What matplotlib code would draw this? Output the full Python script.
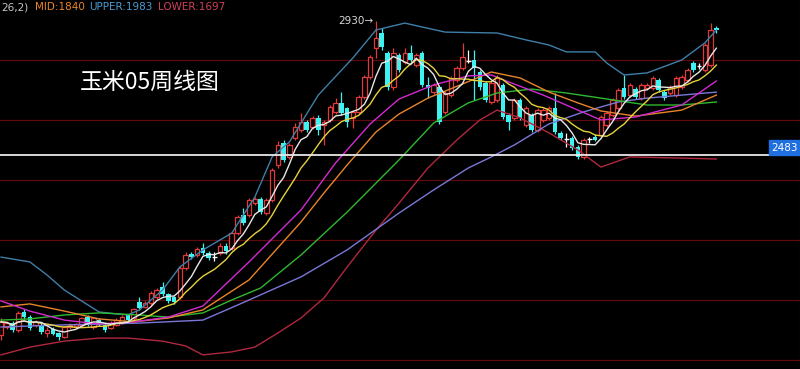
import matplotlib

matplotlib.use("Agg")
import matplotlib.pyplot as plt
import matplotlib.transforms as mtransforms
import numpy as np
import pandas as pd

# weekly candles (price units)
OPEN = [1883, 1910, 1923, 1900, 1960, 1943, 1917, 1917, 1890, 1903,
        1890, 1877, 1910, 1913, 1917, 1943, 1910, 1933, 1917, 1907,
        1917, 1923, 1950, 1940, 1993, 1977, 1990, 2010, 2043, 2020,
        2010, 2010, 2107, 2153, 2150, 2173, 2157, 2147, 2157, 2180,
        2173, 2223, 2283, 2283, 2323, 2337, 2290, 2333, 2450, 2523,
        2477, 2540, 2567, 2593, 2577, 2607, 2583, 2600, 2627, 2657,
        2640, 2607, 2627, 2677, 2743, 2840, 2890, 2823, 2710, 2817,
        2793, 2823, 2783, 2823, 2717, 2693, 2710, 2627, 2683, 2733,
        2773, 2800, 2800, 2760, 2723, 2660, 2667, 2717, 2617, 2607,
        2667, 2583, 2617, 2567, 2600, 2607, 2640, 2557, 2540, 2540,
        2510, 2477, 2533, 2543, 2550, 2583, 2617, 2640, 2707, 2683,
        2703, 2673, 2707, 2707, 2733, 2693, 2690, 2683, 2710, 2733,
        2790, 2780, 2767, 2783, 2908]
CLOSE = [1927, 1923, 1900, 1957, 1943, 1907, 1927, 1893, 1900, 1887,
         1877, 1910, 1917, 1920, 1940, 1917, 1940, 1917, 1900, 1923,
         1933, 1943, 1933, 1970, 1973, 1990, 2023, 2033, 2020, 1997,
         1993, 2107, 2150, 2143, 2170, 2157, 2140, 2145, 2180, 2163,
         2223, 2277, 2257, 2333, 2337, 2293, 2333, 2433, 2517, 2467,
         2517, 2577, 2593, 2567, 2607, 2567, 2593, 2643, 2657, 2623,
         2593, 2627, 2677, 2743, 2810, 2873, 2843, 2710, 2823, 2767,
         2823, 2800, 2817, 2717, 2707, 2717, 2593, 2690, 2740, 2773,
         2810, 2797, 2773, 2710, 2667, 2723, 2740, 2610, 2593, 2667,
         2607, 2640, 2567, 2633, 2633, 2640, 2560, 2540, 2537, 2507,
         2477, 2533, 2537, 2533, 2610, 2623, 2667, 2700, 2677, 2717,
         2677, 2717, 2717, 2740, 2700, 2673, 2710, 2740, 2743, 2767,
         2767, 2780, 2850, 2900, 2900]
HIGH = [1940, 1930, 1930, 1965, 1970, 1950, 1935, 1925, 1910, 1910,
        1895, 1915, 1922, 1925, 1945, 1950, 1945, 1940, 1922, 1930,
        1940, 1950, 1955, 1975, 2010, 1997, 2030, 2040, 2060, 2025,
        2015, 2115, 2160, 2160, 2177, 2190, 2165, 2160, 2190, 2190,
        2230, 2285, 2307, 2340, 2343, 2343, 2340, 2440, 2530, 2533,
        2525, 2590, 2623, 2600, 2613, 2617, 2600, 2650, 2673, 2693,
        2645, 2635, 2683, 2750, 2817, 2930, 2907, 2830, 2840, 2825,
        2840, 2850, 2823, 2830, 2743, 2723, 2717, 2697, 2747, 2780,
        2857, 2833, 2833, 2767, 2730, 2730, 2750, 2723, 2623, 2673,
        2673, 2647, 2623, 2640, 2640, 2647, 2690, 2563, 2557, 2547,
        2517, 2540, 2545, 2555, 2617, 2630, 2673, 2707, 2750, 2723,
        2710, 2723, 2723, 2747, 2740, 2700, 2717, 2747, 2750, 2773,
        2797, 2790, 2857, 2923, 2912]
LOW = [1867, 1905, 1895, 1893, 1938, 1900, 1910, 1887, 1877, 1883,
       1867, 1873, 1905, 1908, 1913, 1913, 1905, 1912, 1893, 1903,
       1913, 1920, 1928, 1935, 1968, 1972, 1985, 2005, 2015, 1990,
       1987, 2005, 2100, 2138, 2145, 2150, 2135, 2130, 2150, 2155,
       2168, 2218, 2250, 2278, 2318, 2288, 2285, 2328, 2440, 2460,
       2470, 2535, 2560, 2560, 2570, 2550, 2517, 2595, 2620, 2617,
       2577, 2573, 2620, 2670, 2737, 2807, 2835, 2700, 2700, 2760,
       2787, 2795, 2777, 2710, 2673, 2687, 2587, 2620, 2677, 2727,
       2767, 2790, 2667, 2700, 2660, 2653, 2660, 2603, 2567, 2600,
       2600, 2577, 2560, 2560, 2593, 2600, 2553, 2533, 2510, 2500,
       2470, 2470, 2525, 2530, 2545, 2577, 2610, 2633, 2670, 2677,
       2670, 2667, 2700, 2700, 2693, 2667, 2683, 2677, 2703, 2727,
       2760, 2770, 2760, 2777, 2890]

# slow lines, sampled at candle indices
UPPER_IDX = [0, 5, 8, 11, 17, 22, 24, 28, 31, 35, 40, 44, 47, 50, 55, 61, 65,
             70, 73, 77, 86, 91, 95, 98, 103, 105, 108, 112, 118, 122, 124]
UPPER = [2143, 2127, 2083, 2033, 1960, 1950, 1967, 2033, 2110, 2167, 2223,
         2343, 2477, 2527, 2683, 2807, 2900, 2923, 2910, 2893, 2890, 2867,
         2850, 2827, 2827, 2790, 2750, 2757, 2800, 2857, 2900]
LOWER_IDX = [0, 5, 11, 17, 22, 28, 32, 35, 40, 44, 48, 52, 56, 60, 65, 69,
             74, 79, 83, 86, 90, 95, 100, 104, 109, 118, 124]
LOWER = [1817, 1843, 1863, 1873, 1873, 1863, 1847, 1817, 1827, 1843, 1890,
         1940, 2007, 2110, 2233, 2323, 2440, 2533, 2600, 2633, 2607, 2557,
         2500, 2443, 2477, 2473, 2470]
MID_IDX = [0, 5, 11, 17, 23, 29, 35, 43, 52, 56, 60, 65, 69, 74, 80, 85, 90,
           95, 100, 104, 110, 118, 124]
MID = [1977, 1987, 1963, 1937, 1927, 1940, 1967, 2067, 2260, 2357, 2450,
       2560, 2620, 2673, 2720, 2760, 2740, 2693, 2657, 2630, 2613, 2633, 2683]
MA20_IDX = [0, 5, 11, 17, 23, 29, 35, 43, 52, 58, 64, 69, 75, 81, 85, 88, 94,
            100, 104, 110, 118, 124]
MA20 = [1997, 1963, 1933, 1920, 1927, 1943, 1980, 2127, 2300, 2457, 2587,
        2670, 2717, 2747, 2750, 2727, 2683, 2633, 2600, 2610, 2650, 2730]
MA60_IDX = [0, 5, 11, 17, 24, 29, 35, 40, 45, 52, 60, 69, 75, 81, 86, 92, 98,
            104, 112, 118, 124]
MA60 = [1933, 1937, 1950, 1957, 1950, 1943, 1957, 2000, 2040, 2150, 2293,
        2467, 2590, 2657, 2690, 2703, 2690, 2673, 2650, 2650, 2660]
MA120_IDX = [0, 11, 24, 35, 41, 52, 60, 69, 75, 81, 85, 89, 95, 101, 107, 112,
             124]
MA120 = [1910, 1917, 1923, 1933, 1983, 2077, 2167, 2290, 2367, 2440, 2477,
         2517, 2587, 2627, 2660, 2673, 2693]

GRID_LEVELS = [1800, 2000, 2200, 2400, 2600, 2800]
MARK_LEVEL = 2483
TITLE = "玉米05周线图"

RED = "#e23a3a"
CYAN = "#3ff2f2"

o, c = np.array(OPEN), np.array(CLOSE)
h, l = np.array(HIGH), np.array(LOW)
x = np.arange(len(o))
closes = pd.Series(c, dtype=float)
ma5 = closes.rolling(5, min_periods=1).mean()
ma10 = closes.rolling(10, min_periods=1).mean()

fig = plt.figure(figsize=(8, 3.69), dpi=100, facecolor="black")
ax = fig.add_axes([0, 0, 1, 1], facecolor="black")
ax.set_xlim(-0.17, 138.5)
ax.set_ylim(1770, 3000)
for s in ["top", "left", "bottom"]:
    ax.spines[s].set_visible(False)
ax.spines["right"].set_color("#8a1010")
ax.set_xticks([])
ax.set_yticks([])

for lv in GRID_LEVELS:
    ax.axhline(lv, color="#5c0c0c", lw=0.9, zorder=1)
ax.axhline(MARK_LEVEL, color="#e8e8e8", lw=1.3, zorder=5)

# candles
up = c > o + 5
down = c < o - 5
doji = ~(up | down)
w = 0.78
ax.vlines(x[up], l[up], h[up], color=RED, lw=0.9, zorder=2)
ax.bar(x[up], c[up] - o[up], bottom=o[up], width=w, facecolor="black",
       edgecolor=RED, lw=0.9, zorder=2)
ax.vlines(x[down], l[down], h[down], color=CYAN, lw=0.9, zorder=2)
ax.bar(x[down], c[down] - o[down], bottom=o[down], width=w, color=CYAN,
       zorder=2)
ax.vlines(x[doji], l[doji], h[doji], color="white", lw=0.9, zorder=2)
ax.hlines(c[doji], x[doji] - w / 2, x[doji] + w / 2, color="white", lw=1.0,
          zorder=2)

# indicator lines
ax.plot(UPPER_IDX, UPPER, color="#3f7fa8", lw=1.0, zorder=3)
ax.plot(LOWER_IDX, LOWER, color="#b0283c", lw=1.0, zorder=3)
ax.plot(MA120_IDX, MA120, color="#7a78d8", lw=1.0, zorder=3)
ax.plot(MA60_IDX, MA60, color="#2fb82f", lw=1.0, zorder=3)
ax.plot(MID_IDX, MID, color="#e8842c", lw=1.0, zorder=3)
ax.plot(MA20_IDX, MA20, color="#d22ad2", lw=1.0, zorder=3)
ax.plot(x, ma10, color="#e6d23c", lw=1.0, zorder=3)
ax.plot(x, ma5, color="#e8e8e8", lw=1.0, zorder=3)

# high marker
imax = int(np.argmax(h))
ax.text(imax - 0.4, h[imax], f"{h[imax]:.0f}\u2192", color="#d8d8d8",
        fontsize=7.5, ha="right", va="center", zorder=6)

# level tag on the right
trans = mtransforms.blended_transform_factory(ax.transAxes, ax.transData)
ax.text(0.9975, MARK_LEVEL + 8, f"{MARK_LEVEL}", transform=trans,
        color="white", fontsize=7.5, ha="right", va="bottom", zorder=7,
        bbox=dict(boxstyle="square,pad=0.25", fc="#1f6fe0", ec="#1f6fe0"))

# BOLL header
hdr = [(0.001, "26,2)", "#c8c8c8"), (0.044, "MID:1840", "#e8842c"),
       (0.111, "UPPER:1983", "#4a9ad0"), (0.198, "LOWER:1697", "#d0405a")]
for xf, txt, col in hdr:
    fig.text(xf, 1 - 7 / 369, txt, color=col, fontsize=7.5, ha="left",
             va="center")

fig.text(80 / 800, 1 - 82 / 369, TITLE, color="white", fontsize=16.5,
         ha="left", va="center", family=["Noto Sans CJK SC", "DejaVu Sans"])

fig.savefig("out.png", dpi=100, facecolor="black")
